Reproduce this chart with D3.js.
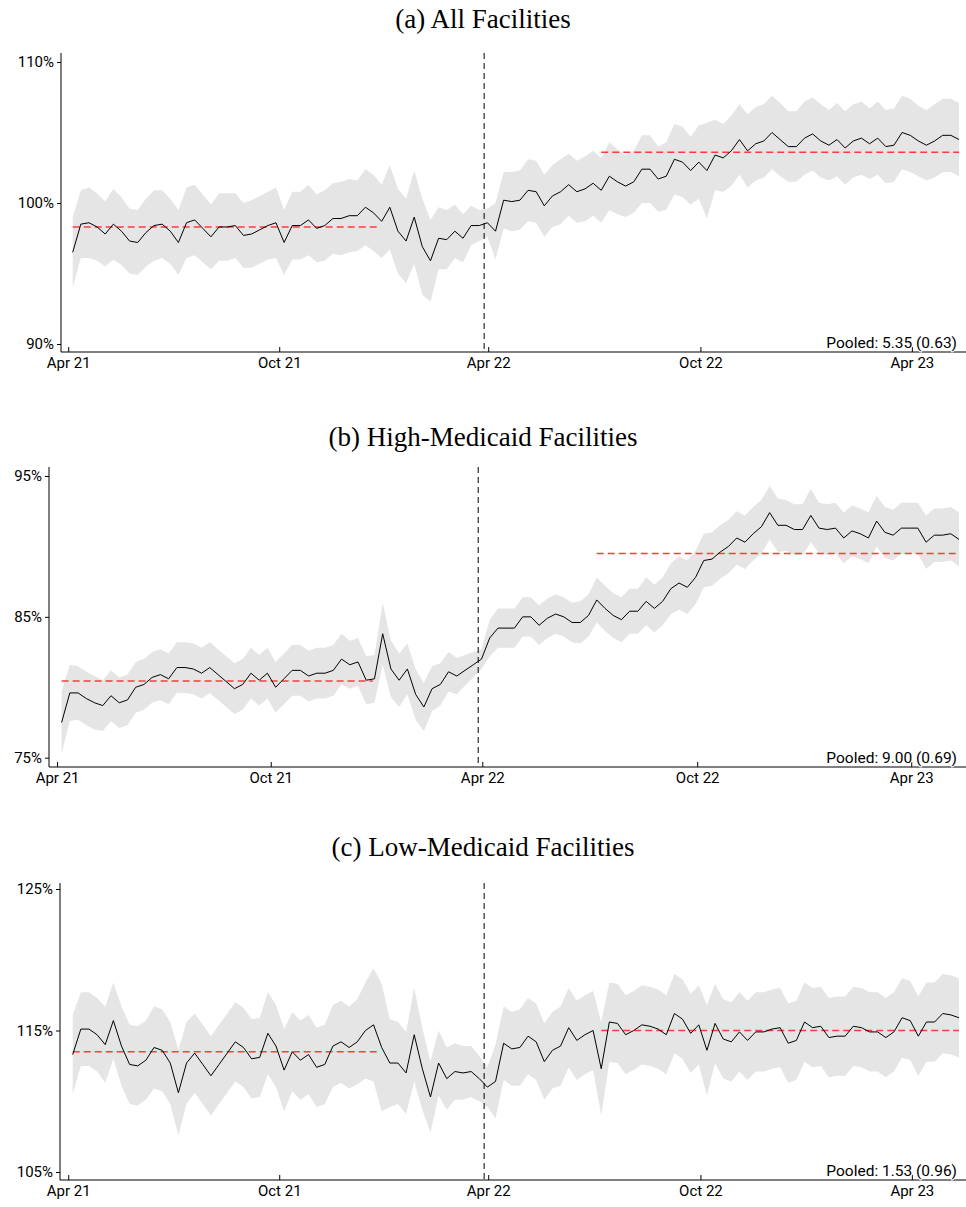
<!DOCTYPE html>
<html><head><meta charset="utf-8">
<script src="https://cdn.jsdelivr.net/npm/d3@7"></script>
<style>body{margin:0;background:#fff}</style>
</head><body>
<svg id="c" width="966" height="1207"></svg>
<script>
const titles = ["(a) All Facilities","(b) High-Medicaid Facilities","(c) Low-Medicaid Facilities"];
const pooled = ["Pooled: 5.35 (0.63)","Pooled: 9.00 (0.69)","Pooled: 1.53 (0.96)"];
const tickLabels = ["Apr 21","Oct 21","Apr 22","Oct 22","Apr 23"];
const tickWeeks = [-0.55, 25.4, 51.1, 77.2, 103.2];
const eventWeek = 50.6;
const preSpan = [0, 37.8];
const postSpan = [65, 109];

const meanA = [96.5,98.5,98.6,98.3,97.8,98.5,98.0,97.3,97.2,97.9,98.4,98.5,98.0,97.2,98.6,98.8,98.2,97.6,98.3,98.3,98.4,97.7,97.8,98.1,98.4,98.6,97.2,98.4,98.4,98.8,98.2,98.4,98.9,98.9,99.1,99.1,99.7,99.3,98.7,99.7,98.0,97.3,99.0,96.9,95.9,97.5,97.4,98.0,97.5,98.4,98.4,98.6,98.0,100.2,100.1,100.2,100.9,100.8,99.8,100.5,100.8,101.3,100.8,101.0,101.4,100.9,101.9,101.5,101.2,101.5,102.4,102.4,101.7,101.9,103.1,102.9,102.3,102.9,102.3,103.4,103.2,103.7,104.5,103.7,104.2,104.4,105.0,104.5,104.0,104.0,104.6,104.9,104.4,104.1,104.5,103.9,104.4,104.6,104.2,104.6,104.0,104.1,105.0,104.8,104.4,104.1,104.4,104.8,104.8,104.5];
const ciA = [2.5,2.4,2.5,2.4,2.3,2.5,2.4,2.3,2.3,2.4,2.5,2.4,2.3,2.3,2.5,2.5,2.4,2.3,2.4,2.4,2.3,2.3,2.4,2.4,2.4,2.5,2.3,2.4,2.4,2.5,2.4,2.5,2.5,2.6,2.6,2.5,2.7,2.7,2.6,3.0,3.0,3.0,3.3,3.4,2.9,2.2,2.1,1.9,1.7,1.4,1.1,1.0,2.0,2.0,2.1,2.1,2.2,2.2,2.2,2.2,2.3,2.2,2.2,2.3,2.3,2.3,2.4,2.3,2.2,2.2,2.4,2.4,2.3,2.4,2.5,2.5,2.4,2.6,3.4,2.5,2.4,2.5,2.5,2.6,2.6,2.6,2.6,2.6,2.5,2.5,2.6,2.6,2.6,2.5,2.6,2.6,2.6,2.6,2.5,2.6,2.6,2.6,2.6,2.6,2.5,2.5,2.6,2.6,2.6,2.6];
const meanB = [77.5,79.6,79.6,79.2,78.9,78.7,79.4,78.9,79.1,80.0,80.2,80.7,80.9,80.6,81.4,81.4,81.3,81.0,81.4,80.9,80.4,79.9,80.2,81.0,80.5,81.0,80.0,80.6,81.2,81.2,80.8,81.0,81.0,81.2,82.0,81.6,81.8,80.5,80.6,83.8,81.3,80.5,81.3,79.5,78.6,79.9,80.2,81.1,80.8,81.2,81.6,82.0,83.5,84.2,84.2,84.2,85.0,85.0,84.4,84.9,85.2,85.0,84.6,84.6,85.1,86.2,85.6,85.1,84.8,85.4,85.4,86.1,85.6,86.1,87.0,87.4,87.1,87.8,89.0,89.1,89.6,90.0,90.6,90.3,90.9,91.4,92.4,91.5,91.5,91.2,91.2,92.2,91.3,91.2,91.3,90.6,91.1,90.9,90.6,91.8,91.0,90.8,91.3,91.3,91.3,90.3,90.8,90.8,90.9,90.5];
const ciB = [2.2,2.0,1.9,1.9,1.9,1.8,1.8,1.8,1.8,1.8,1.8,1.8,1.8,1.8,1.8,1.8,1.8,1.8,1.8,1.8,1.8,1.8,1.8,1.8,1.8,1.8,1.8,1.8,1.8,1.8,1.8,1.8,1.8,1.8,1.8,1.7,1.7,1.7,1.7,2.2,2.0,1.9,1.8,1.8,1.7,1.6,1.5,1.4,1.3,1.1,0.9,0.7,1.3,1.4,1.4,1.4,1.4,1.4,1.4,1.4,1.4,1.4,1.4,1.5,1.5,1.6,1.6,1.6,1.6,1.6,1.6,1.7,1.7,1.7,1.8,1.9,1.9,1.9,1.9,1.9,1.9,1.9,1.9,1.9,1.9,1.9,1.9,1.9,1.8,1.8,1.8,1.9,1.8,1.8,1.8,1.8,1.8,1.8,1.8,1.8,1.8,1.8,1.8,1.8,1.8,1.9,1.9,1.9,1.9,1.9];
const meanC = [113.3,115.1,115.1,114.7,114.0,115.7,113.9,112.6,112.5,112.9,113.8,113.6,112.7,110.6,112.7,113.4,112.6,111.8,112.6,113.4,114.2,113.8,113.0,113.1,114.8,113.9,112.2,113.5,112.9,113.3,112.4,112.6,113.9,114.2,113.8,114.2,115.0,115.4,113.8,112.7,112.7,112.0,114.7,112.3,110.3,112.7,111.6,112.1,112.0,112.1,111.6,111.0,111.4,114.1,113.7,113.8,114.6,114.2,112.8,113.6,113.9,115.2,114.3,114.7,115.0,112.3,115.6,115.5,114.7,115.0,115.4,115.3,115.1,114.7,116.2,115.8,114.8,115.4,113.6,115.5,114.4,114.2,114.9,114.3,114.9,114.9,115.1,115.2,114.1,114.3,115.6,115.2,115.3,114.5,114.6,114.6,115.3,115.2,114.9,114.9,114.5,114.9,115.9,115.7,114.6,115.6,115.6,116.2,116.1,115.9];
const ciC = [2.8,2.6,2.6,2.6,2.7,2.7,2.8,2.8,2.8,2.8,2.9,2.9,2.9,3.0,2.9,2.8,2.8,2.8,2.8,2.8,2.8,2.8,2.8,2.8,2.9,2.9,2.9,2.8,2.8,2.8,2.8,2.8,2.9,2.9,2.9,3.0,3.4,4.0,4.5,3.1,2.9,2.9,3.3,2.9,2.5,2.3,2.2,2.0,1.9,1.8,1.6,1.4,2.6,2.6,2.6,2.7,2.7,2.7,2.7,2.7,2.8,2.8,2.8,2.8,2.8,3.3,2.8,2.8,2.8,2.8,2.8,2.8,2.8,2.8,2.8,2.8,2.8,2.8,3.2,2.8,2.8,2.8,2.8,2.8,2.8,2.8,2.8,2.8,2.8,2.8,2.8,2.8,2.8,2.8,2.8,2.8,2.8,2.8,2.8,2.8,2.8,2.8,2.8,2.8,2.8,2.8,2.8,2.8,2.8,2.8];
const preLevel = [98.3, 80.45, 113.5];
const postLevel = [103.6, 89.5, 115.0];
const yTicks = [[90,100,110],[75,85,95],[105,115,125]];

const panels = [
  {mean:meanA, ci:ciA, top:53, bottom:352, axisX:61, x0:72.7, x1:959, ydom:[90,110], yr:[344,62]},
  {mean:meanB, ci:ciB, top:467, bottom:767, axisX:49, x0:61.6, x1:959, ydom:[75,95], yr:[757.7,476]},
  {mean:meanC, ci:ciC, top:883, bottom:1180, axisX:60, x0:72.7, x1:959, ydom:[105,125], yr:[1172,889]}
];
const titleY = [28, 446, 856];
const svg = d3.select("#c");
panels.forEach((p,k)=>{
  const n = p.mean.length;
  const x = d3.scaleLinear().domain([0,n-1]).range([p.x0,p.x1]);
  const y = d3.scaleLinear().domain(p.ydom).range(p.yr);
  const g = svg.append("g");
  g.append("text").attr("x",483).attr("y",titleY[k]).attr("text-anchor","middle")
    .attr("font-family","'Liberation Serif', 'DejaVu Serif', serif").attr("font-size",27).text(titles[k]);
  const idx = d3.range(n);
  g.append("path").datum(idx).attr("fill","#e5e5e5")
    .attr("d", d3.area().x(i=>x(i)).y0(i=>y(p.mean[i]-p.ci[i])).y1(i=>y(p.mean[i]+p.ci[i])));
  g.append("line").attr("x1",x(preSpan[0])).attr("x2",x(preSpan[1])).attr("y1",y(preLevel[k])).attr("y2",y(preLevel[k]))
    .attr("stroke","#ff3b3b").attr("stroke-width",1.5).attr("stroke-dasharray","7,4");
  g.append("line").attr("x1",x(postSpan[0])).attr("x2",x(postSpan[1])).attr("y1",y(postLevel[k])).attr("y2",y(postLevel[k]))
    .attr("stroke","#ff3b3b").attr("stroke-width",1.5).attr("stroke-dasharray","7,4");
  g.append("path").datum(idx).attr("fill","none").attr("stroke","#000").attr("stroke-width",1)
    .attr("d", d3.line().x(i=>x(i)).y(i=>y(p.mean[i])));
  g.append("line").attr("x1",x(eventWeek)).attr("x2",x(eventWeek)).attr("y1",p.top).attr("y2",p.bottom)
    .attr("stroke","#000").attr("stroke-width",1).attr("stroke-dasharray","6,4");
  const yAx = d3.axisLeft(y).tickValues(yTicks[k]).tickSize(4).tickFormat(d=>d+"%");
  const ya = g.append("g").attr("transform",`translate(${p.axisX},0)`).call(yAx);
  ya.select(".domain").attr("d",`M0,${p.top}V${p.bottom}`);
  const xAx = d3.axisBottom(x).tickValues(tickWeeks).tickSize(0).tickFormat((d,i)=>tickLabels[i]);
  const xa = g.append("g").attr("transform",`translate(0,${p.bottom})`).call(xAx);
  xa.select(".domain").attr("d",`M${p.axisX},0H966`);
  xa.selectAll(".tick line").attr("y1",0).attr("y2",-5).attr("stroke","#000");
  xa.selectAll(".tick text").attr("dy","1em").attr("y",1);
  [ya,xa].forEach(a=>{a.selectAll("text").attr("font-family","Roboto").attr("font-size",15).attr("fill","#000");
    a.selectAll("path,line").attr("stroke","#000");});
  g.append("text").attr("x",957).attr("y",p.bottom-4).attr("text-anchor","end")
    .attr("font-family","Roboto").attr("font-size",15.5).attr("fill","#000")
    .style("paint-order","stroke").attr("stroke","#fff").attr("stroke-width",2).text(pooled[k]);
});
</script>
</body></html>
